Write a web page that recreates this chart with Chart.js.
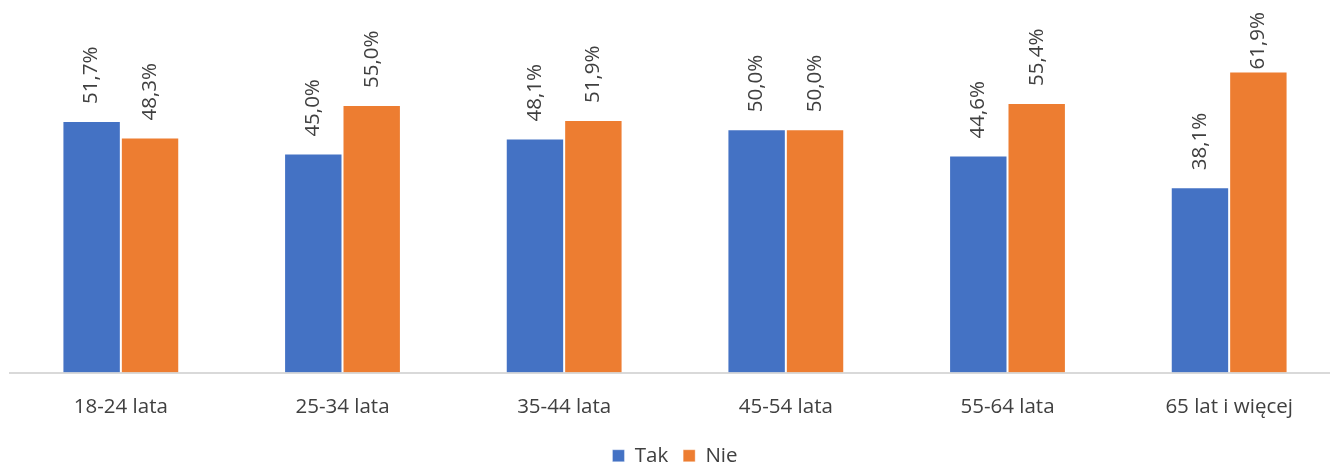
<!DOCTYPE html>
<html>
<head>
<meta charset="utf-8">
<script src="https://cdn.jsdelivr.net/npm/chart.js@4"></script>
<style>
  html, body { margin: 0; padding: 0; background: #fff; overflow: hidden; }
  #wrap { width: 1340px; height: 465px; }
</style>
</head>
<body>
<div id="wrap"><canvas id="chart"></canvas></div>
<script>
// Chart data
const categories = ['18-24 lata', '25-34 lata', '35-44 lata', '45-54 lata', '55-64 lata', '65 lat i więcej'];
const takValues = [51.7, 45.0, 48.1, 50.0, 44.6, 38.1];
const nieValues = [48.3, 55.0, 51.9, 50.0, 55.4, 61.9];

const FONT = "'Open Sans', 'Noto Sans', sans-serif";
const TEXT = '#404040';

// Rotated value labels above each bar, kept inside the top edge
const barLabels = {
    id: 'barLabels',
    afterDatasetsDraw(chart) {
        const ctx = chart.ctx;
        ctx.save();
        ctx.font = '20.5px ' + FONT;
        ctx.fillStyle = TEXT;
        ctx.textAlign = 'left';
        ctx.textBaseline = 'middle';
        chart.data.datasets.forEach((ds, i) => {
            chart.getDatasetMeta(i).data.forEach((bar, j) => {
                const txt = ds.data[j].toFixed(1).replace('.', ',') + '%';
                const w = ctx.measureText(txt).width;
                const start = Math.max(bar.y - 17, 12 + w);
                ctx.save();
                ctx.translate(bar.x, start);
                ctx.rotate(-Math.PI / 2);
                ctx.fillText(txt, 0, 0);
                ctx.restore();
            });
        });
        ctx.restore();
    }
};

new Chart(document.getElementById('chart'), {
    type: 'bar',
    data: {
        labels: categories,
        datasets: [
            {
                label: 'Tak',
                data: takValues,
                backgroundColor: '#4472c4',
                borderColor: 'rgba(255,255,255,0.35)',
                borderWidth: 1
            },
            {
                label: 'Nie',
                data: nieValues,
                backgroundColor: '#ed7d31',
                borderColor: 'rgba(255,255,255,0.35)',
                borderWidth: 1
            }
        ]
    },
    options: {
        responsive: true,
        maintainAspectRatio: false,
        animation: false,
        datasets: {
            bar: { categoryPercentage: 0.527, barPercentage: 1.0 }
        },
        layout: {
            padding: { left: 10, right: 0, top: 32, bottom: -11 }
        },
        plugins: {
            legend: {
                position: 'bottom',
                labels: {
                    color: TEXT,
                    font: { family: FONT, size: 20.5, lineHeight: 1 },
                    boxWidth: 12,
                    boxHeight: 12,
                    padding: 15
                }
            },
            tooltip: { enabled: false }
        },
        scales: {
            x: {
                grid: { display: false },
                border: { color: '#d9d9d9', width: 2 },
                ticks: {
                    color: TEXT,
                    font: { family: FONT, size: 20.5 },
                    padding: 14
                },
                afterFit(scale) {
                    scale.height = 58;
                }
            },
            y: {
                display: false,
                min: 0,
                max: 70
            }
        }
    },
    plugins: [barLabels]
});
</script>
</body>
</html>
